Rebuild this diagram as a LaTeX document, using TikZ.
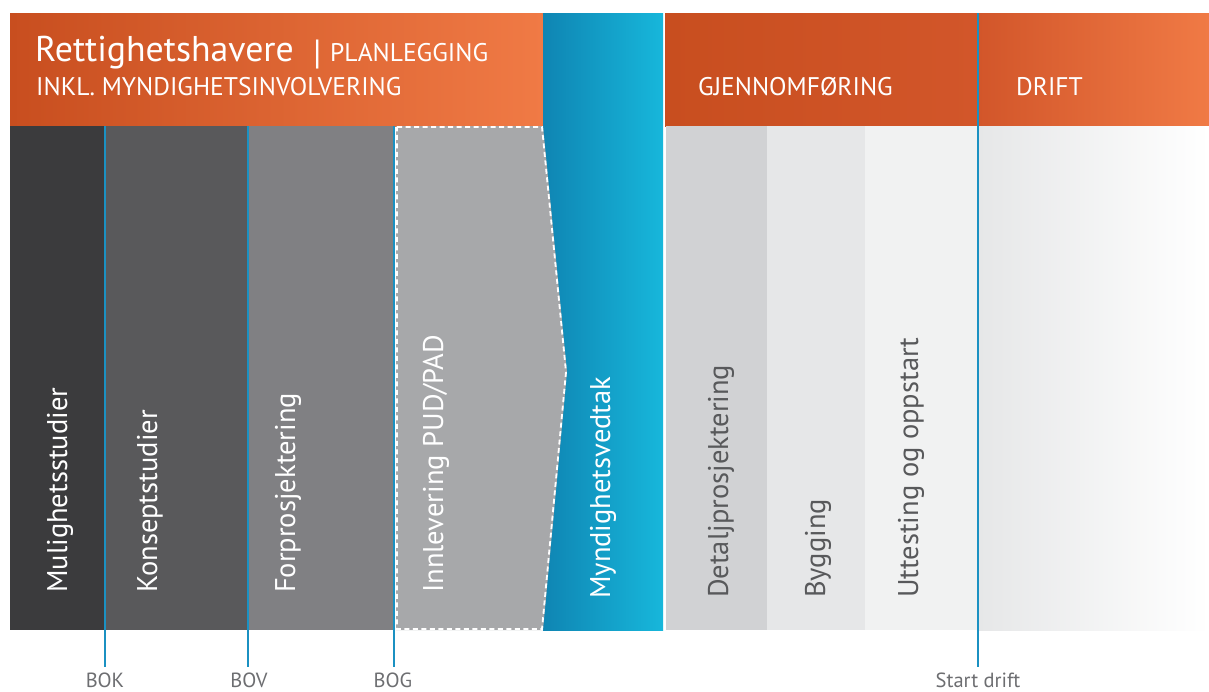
\documentclass[tikz,border=0pt]{standalone}
\usepackage{fontspec}
\setmainfont{PT Sans}
\definecolor{orDark}{HTML}{C84E1F}
\definecolor{orMid}{HTML}{D2562A}
\definecolor{orLight}{HTML}{F07A45}
\definecolor{blDark}{HTML}{0F85B3}
\definecolor{blLight}{HTML}{17B7DB}
\definecolor{msLine}{HTML}{1B91C2}
\definecolor{gA}{HTML}{3B3B3D}
\definecolor{gB}{HTML}{59595B}
\definecolor{gC}{HTML}{808083}
\definecolor{gD}{HTML}{A7A8AA}
\definecolor{gE}{HTML}{D1D2D4}
\definecolor{gF}{HTML}{E6E7E8}
\definecolor{gG}{HTML}{F1F2F2}
\definecolor{txtDark}{HTML}{58595B}
\definecolor{txtLab}{HTML}{6D6E71}
\begin{document}
\begin{tikzpicture}[x=1pt,y=-1pt,
  vtext/.style={rotate=90, anchor=base west, inner sep=0pt, font=\fontsize{28.5}{28.5}\selectfont},
  htext/.style={anchor=base west, inner sep=0pt, text=white},
  capfont/.style={font=\fontsize{25.5}{25.5}\selectfont},
  mslabel/.style={anchor=base, inner sep=0pt, text=txtLab, font=\fontsize{20.5}{20.5}\selectfont},
  msline/.style={draw=msLine, line width=1.8pt}]
\useasboundingbox (0,0) rectangle (1209,691);
\fill[white] (0,0) rectangle (1209,691);
% headers
\shade[left color=orDark, right color=orLight] (10,13) rectangle (543,126);
\shade[left color=orDark, right color=orMid] (665,13) rectangle (978,126);
\shade[left color=orMid, right color=orLight] (978,13) rectangle (1209,126);
% authority column
\shade[left color=blDark, right color=blLight] (543,13) rectangle (663,630);
% planning columns
\fill[gA] (10,126) rectangle (105,630);
\fill[gB] (105,126) rectangle (248,630);
\fill[gC] (248,126) rectangle (394,630);
\fill[gD] (396,126) -- (543,126) -- (567,372) -- (543,630) -- (396,630) -- cycle;
\draw[white, line width=1.8pt, dash pattern=on 5pt off 3.5pt] (397,127) -- (542,127) -- (566,372) -- (542,629) -- (397,629) -- cycle;
% execution columns
\fill[gE] (666,126) rectangle (767,630);
\fill[gF] (767,126) rectangle (865,630);
\fill[gG] (865,126) rectangle (978,630);
\shade[left color=gF, right color=white] (978,126) rectangle (1209,630);
% milestones
\coordinate (bokTop) at (105,126); \coordinate (bokEnd) at (105,667);
\coordinate (bovTop) at (248,126); \coordinate (bovEnd) at (248,667);
\coordinate (bogTop) at (394,126); \coordinate (bogEnd) at (394,667);
\coordinate (sdTop) at (978,13);   \coordinate (sdEnd) at (978,667);
\draw[msline] (bokTop) -- (bokEnd);
\draw[msline] (bovTop) -- (bovEnd);
\draw[msline] (bogTop) -- (bogEnd);
\draw[msline] (sdTop) -- (sdEnd);
\node[mslabel] (bok) at (105,687) {BOK};
\node[mslabel] (bov) at (249,687) {BOV};
\node[mslabel] (bog) at (393,687) {BOG};
\node[mslabel] (sd) at (978,687) {Start drift};
% header texts
\node[htext, font=\fontsize{35.8}{35.8}\selectfont] (rett) at (35,61) {Rettighetshavere};
\node[htext, font=\fontsize{35}{35}\selectfont] (bar) at (313,64) {|};
\node[htext, capfont] (plan) at (330,61) {PLANLEGGING};
\node[htext, capfont] (inkl) at (36,95) {INKL. MYNDIGHETSINVOLVERING};
\node[htext, capfont] (gjen) at (698,95) {GJENNOMFØRING};
\node[htext, capfont] (drift) at (1016,95) {DRIFT};
% column texts
\node[vtext, text=white] (mul) at (67,593) {Mulighetsstudier};
\node[vtext, text=white] (kon) at (157,593) {Konseptstudier};
\node[vtext, text=white] (forp) at (295,593) {Forprosjektering};
\node[vtext, text=white] (innl) at (443,593) {Innlevering PUD/PAD};
\node[vtext, text=white] (mynd) at (610,599) {Myndighetsvedtak};
\node[vtext, text=txtDark] (det) at (728,598) {Detaljprosjektering};
\node[vtext, text=txtDark] (byg) at (825,598) {Bygging};
\node[vtext, text=txtDark] (utt) at (918,598) {Uttesting og oppstart};
\end{tikzpicture}
\end{document}
